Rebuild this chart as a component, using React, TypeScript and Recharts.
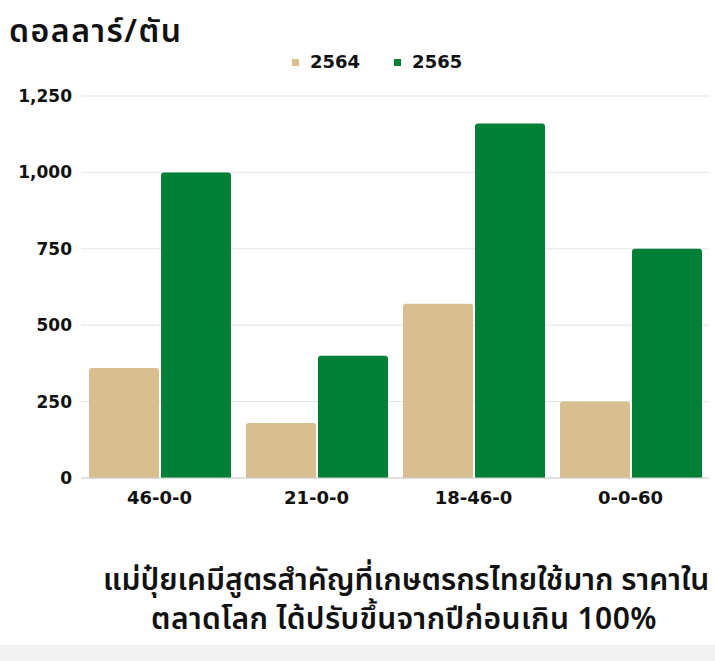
import React from 'react';
import { BarChart, Bar, XAxis, YAxis, CartesianGrid } from 'recharts';

const categories = ['46-0-0', '21-0-0', '18-46-0', '0-0-60'];
const values2564 = [360, 180, 570, 250];
const values2565 = [1000, 400, 1160, 750];
const yTicks = [0, 250, 500, 750, 1000, 1250];

const TAN = '#d9be8f';
const GREEN = '#008037';
const FONT = '"Noto Sans Thai", "Noto Sans", "Open Sans", sans-serif';
const NUM_FONT = '"DejaVu Sans", sans-serif';

const data = categories.map((c, i) => ({
  name: c,
  y2564: values2564[i],
  y2565: values2565[i],
}));

const LegendBox: React.FC = () => (
  <div
    style={{
      position: 'absolute',
      top: 51,
      left: 292,
      display: 'flex',
      alignItems: 'center',
      fontFamily: NUM_FONT,
      fontWeight: 700,
      fontSize: 18,
      lineHeight: '22px',
      color: '#111',
    }}
  >
    <span style={{ width: 7, height: 7, background: TAN, display: 'inline-block', marginRight: 11 }} />
    <span>2564</span>
    <span style={{ width: 7, height: 7, background: GREEN, display: 'inline-block', marginLeft: 34, marginRight: 11 }} />
    <span>2565</span>
  </div>
);

export default function App() {
  return (
    <div
      style={{
        position: 'absolute',
        top: 0,
        left: 0,
        width: 715,
        height: 661,
        background: '#fff',
        overflow: 'hidden',
        fontFamily: FONT,
      }}
    >
      <div
        style={{
          position: 'absolute',
          top: 8,
          left: 9,
          fontSize: 32,
          letterSpacing: 1.5,
          fontWeight: 600,
          color: '#111',
        }}
      >
        ดอลลาร์/ตัน
      </div>
      <LegendBox />
      <div style={{ position: 'absolute', top: 0, left: 0 }}>
        <BarChart
          width={715}
          height={520}
          data={data}
          margin={{ top: 96, right: 6, bottom: 12, left: 0 }}
          barCategoryGap={8}
          barGap={2}
        >
          <CartesianGrid vertical={false} stroke="#e3e3e3" />
          <XAxis
            dataKey="name"
            height={30}
            tickLine={false}
            tickSize={0}
            tickMargin={13}
            axisLine={{ stroke: '#cfcfcf' }}
            tick={{ fill: '#111', fontSize: 18, fontWeight: 700, fontFamily: NUM_FONT }}
          />
          <YAxis
            width={81}
            domain={[0, 1250]}
            ticks={yTicks}
            axisLine={false}
            tickLine={false}
            tickSize={0}
            tickMargin={9}
            tickFormatter={(v: number) => v.toLocaleString('en-US')}
            tick={{ fill: '#111', fontSize: 17, fontWeight: 700, fontFamily: NUM_FONT }}
          />
          <Bar dataKey="y2564" fill={TAN} radius={[3, 3, 0, 0]} isAnimationActive={false} />
          <Bar dataKey="y2565" fill={GREEN} radius={[3, 3, 0, 0]} isAnimationActive={false} />
        </BarChart>
      </div>
      <div
        style={{
          position: 'absolute',
          top: 562,
          left: 103,
          width: 602,
          textAlign: 'center',
          whiteSpace: 'nowrap',
          fontSize: 30,
          lineHeight: '39px',
          fontWeight: 600,
          color: '#111',
        }}
      >
        แม่ปุ๋ยเคมีสูตรสำคัญที่เกษตรกรไทยใช้มาก ราคาใน
        <br />
        <span style={{ letterSpacing: 0.4 }}>ตลาดโลก ได้ปรับขึ้นจากปีก่อนเกิน 100%</span>
      </div>
      <div style={{ position: 'absolute', top: 645, left: 0, width: 715, height: 16, background: '#f1f1f1' }} />
    </div>
  );
}
